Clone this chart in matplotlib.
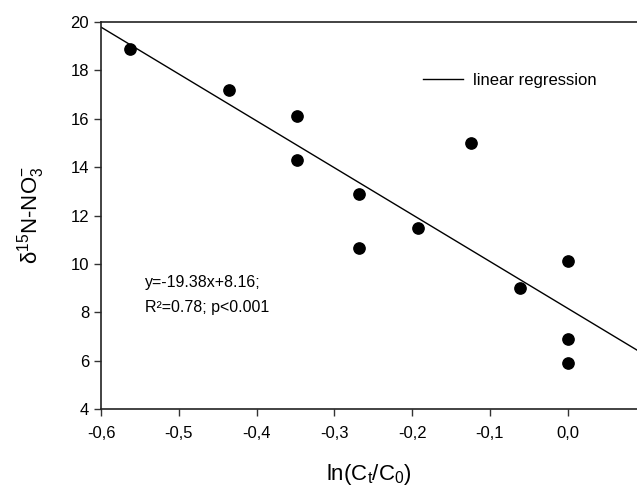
import matplotlib
matplotlib.use("Agg")
import matplotlib.pyplot as plt

plt.rcParams['font.family'] = ['Liberation Sans', 'DejaVu Sans']
plt.rcParams['mathtext.fontset'] = 'custom'
plt.rcParams['mathtext.rm'] = 'Liberation Sans'

# observed points
ln_ratio = [-0.563, -0.435, -0.348, -0.348, -0.268, -0.268, -0.193, -0.125, -0.061, 0.0, 0.0, 0.0]
d15n = [18.9, 17.2, 16.1, 14.3, 12.9, 10.65, 11.5, 15.0, 9.0, 10.1, 6.9, 5.9]

# regression
slope = -19.38
intercept = 8.16
x_range = [-0.6, 0.089]

x_ticks = [-0.6, -0.5, -0.4, -0.3, -0.2, -0.1, 0.0]
x_tick_labels = ['-0,6', '-0,5', '-0,4', '-0,3', '-0,2', '-0,1', '0,0']
y_ticks = [4, 6, 8, 10, 12, 14, 16, 18, 20]

fig = plt.figure(figsize=(6.37, 4.9), dpi=100)
ax = fig.add_axes([0.1586, 0.1653, 0.8414, 0.7898])

ax.scatter(ln_ratio, d15n, s=66, color='black', zorder=3)
line_y = [slope * x + intercept for x in x_range]
ax.plot(x_range, line_y, color='black', linewidth=1, label='linear regression')

ax.set_xlim(x_range)
ax.set_ylim(4, 20)
ax.set_xticks(x_ticks)
ax.set_xticklabels(x_tick_labels)
ax.set_yticks(y_ticks)
ax.tick_params(direction='out', length=5, width=1, labelsize=12, color='#333333')
ax.tick_params(axis='x', pad=7)
ax.spines['right'].set_visible(False)
for s in ['left', 'top', 'bottom']:
    ax.spines[s].set_linewidth(1.2)
    ax.spines[s].set_color('#222222')

ax.set_xlabel(r'ln(C$_\mathregular{t}$/C$_\mathregular{0}$)', fontsize=16, labelpad=15)
ax.set_ylabel(r'δ$^\mathregular{15}$N-NO$_\mathregular{3}^\mathregular{-}$', fontsize=16, labelpad=17)

ax.text(-0.543, 9.25, 'y=-19.38x+8.16;', fontsize=11.5, va='center')
ax.text(-0.543, 8.2, 'R²=0.78; p<0.001', fontsize=11.5, va='center')

ax.legend(loc='upper right', bbox_to_anchor=(0.952, 0.908), frameon=False, fontsize=12,
          handlelength=2.4, handletextpad=0.6)

fig.savefig('out.png', dpi=100)
